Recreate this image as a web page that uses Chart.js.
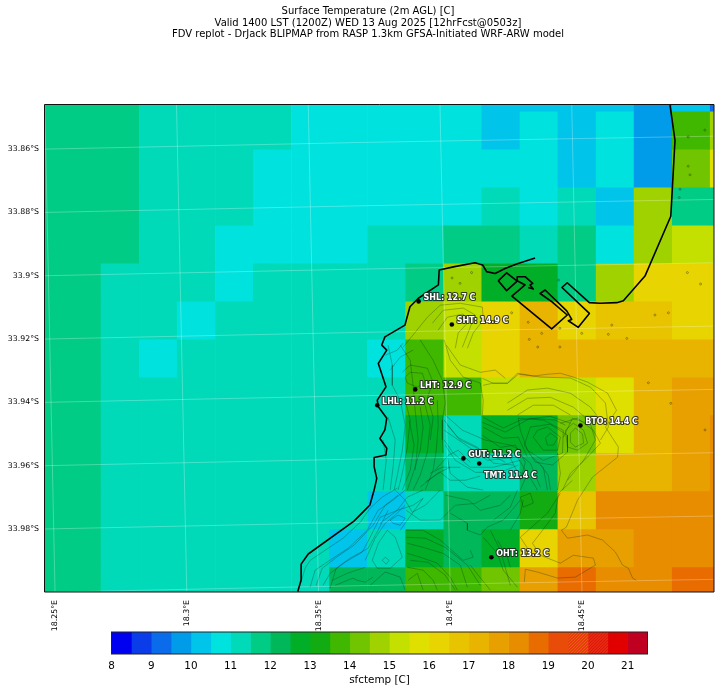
<!DOCTYPE html>
<html>
<head>
<meta charset="utf-8">
<title>Surface Temperature</title>
<script src="https://cdn.jsdelivr.net/npm/chart.js@4"></script>
<style>
  html, body { margin: 0; padding: 0; background: #fff; }
  #wrap { position: relative; width: 721px; height: 692px; overflow: hidden; }
  #mapChart { position: absolute; left: 0; top: 0; }
  #barChart { position: absolute; left: 0; top: 620px; }
</style>
</head>
<body>
<div id="wrap">
  <canvas id="mapChart" width="721" height="692"></canvas>
  <canvas id="barChart" width="721" height="72"></canvas>
</div>
<script>
var titleLines = [
  "Surface Temperature (2m AGL) [C]",
  "Valid 1400 LST (1200Z) WED 13 Aug 2025 [12hrFcst@0503z]",
  "FDV replot - DrJack BLIPMAP from RASP 1.3km GFSA-Initiated WRF-ARW model"
];

// axis ticks
var lonTicks = [18.25, 18.3, 18.35, 18.4, 18.45];
var lonLabels = ["18.25°E", "18.3°E", "18.35°E", "18.4°E", "18.45°E"];
var latTicks = [33.86, 33.88, 33.9, 33.92, 33.94, 33.96, 33.98];
var latLabels = ["33.86°S", "33.88°S", "33.9°S", "33.92°S", "33.94°S", "33.96°S", "33.98°S"];
var latGridLines = [33.86, 33.88, 33.9, 33.92, 33.94, 33.96, 33.98, 34.0];

// model grid
var lonCentres = [18.2458, 18.2603, 18.2747, 18.2892, 18.3036, 18.3181, 18.3325, 18.3470, 18.3614, 18.3759,
  18.3903, 18.4048, 18.4192, 18.4337, 18.4481, 18.4626, 18.4770, 18.4915, 18.5059];
var latEdges = [33.84, 33.848, 33.86, 33.872, 33.884, 33.896, 33.908, 33.92, 33.932, 33.944, 33.956, 33.968, 33.98, 33.992, 34.004];

// temperatures, one row per latitude band, north to south
var tempRows = [
  [11.75,11.75,11.75,11.25,11.25,11.25,11.25,10.75,10.75,10.75,10.75,10.75,10.25,10.25,10.25,10.25,9.75,10.25,9.25],
  [11.75,11.75,11.75,11.25,11.25,11.25,11.25,10.75,10.75,10.75,10.75,10.75,10.25,10.75,10.25,10.75,9.75,13.75,14.75],
  [11.75,11.75,11.75,11.25,11.25,11.25,10.75,10.75,10.75,10.75,10.75,10.75,10.75,10.75,10.25,10.75,9.75,14.25,15.75],
  [11.75,11.75,11.75,11.25,11.25,11.25,10.75,10.75,10.75,10.75,10.75,10.75,11.25,10.75,11.25,10.25,14.75,11.75,11.75],
  [11.75,11.75,11.75,11.25,11.25,10.75,10.75,10.75,10.75,11.25,11.25,11.75,11.75,11.25,11.75,10.75,14.75,15.25,15.25],
  [11.75,11.75,11.25,11.25,11.25,10.75,11.25,11.25,11.25,11.25,11.75,14.75,12.75,12.75,11.75,14.75,16.25,16.25,16.25],
  [11.75,11.75,11.25,11.25,10.75,11.25,11.25,11.25,11.25,11.25,14.75,15.25,16.25,17.25,16.25,16.75,16.75,16.25,16.25],
  [11.75,11.75,11.25,10.75,11.25,11.25,11.25,11.25,11.25,10.75,13.75,15.25,16.25,17.25,17.25,17.25,17.25,17.25,17.25],
  [11.75,11.75,11.25,11.25,11.25,11.25,11.25,11.25,11.25,11.25,13.75,13.75,15.25,15.25,15.25,15.75,17.25,17.75,17.75],
  [11.75,11.75,11.25,11.25,11.25,11.25,11.25,11.25,11.25,11.25,12.75,11.25,12.75,12.75,14.25,15.75,17.25,17.75,18.25],
  [11.75,11.75,11.25,11.25,11.25,11.25,11.25,11.25,11.25,11.25,12.25,11.25,11.25,12.25,14.75,17.25,17.25,17.75,18.25],
  [11.75,11.75,11.25,11.25,11.25,11.25,11.25,11.25,11.25,10.25,11.25,12.25,12.25,13.25,16.75,18.25,18.25,18.25,18.25],
  [11.75,11.75,11.25,11.25,11.25,11.25,11.25,11.25,10.25,11.25,12.75,12.25,12.75,16.25,17.75,17.75,18.25,18.25,18.25],
  [11.75,11.75,11.25,11.25,11.25,11.25,11.25,11.25,12.25,12.25,13.75,13.75,14.25,17.75,18.75,18.25,18.25,18.75,18.75]
];

// colour bands, 8 to 21.5 in half degrees
var bandLows = [8,8.5,9,9.5,10,10.5,11,11.5,12,12.5,13,13.5,14,14.5,15,15.5,16,16.5,17,17.5,18,18.5,19,19.5,20,20.5,21];
var bandColors = ["#0000f0","#0a3cea","#0a6cea","#009cea","#00c4ea","#00e2de","#00dab8","#00cc85","#00b85a","#00ae28",
  "#12ac12","#40b800","#70c400","#a0d200","#c4e000","#e0e000","#e8d400","#e8c400","#e8b400","#e8a000",
  "#e88c00","#e86c00","#e84c08","#e83c10","#e82810","#e00000","#c00020"];
var cbTicks = [8,8.5,9,9.5,10,10.5,11,11.5,12,12.5,13,13.5,14,14.5,15,15.5,16,16.5,17,17.5,18,18.5,19,19.5,20,20.5,21,21.5];

// stations
var stationNames = ["SHL", "SHT", "LHT", "LHL", "GUT", "TMT", "BTO", "OHT"];
var stationTemps = ["12.7", "14.9", "12.9", "11.2", "11.2", "11.4", "14.4", "13.2"];
var stationLon = [18.3880, 18.4006, 18.3867, 18.3723, 18.4050, 18.4110, 18.4494, 18.4156];
var stationLat = [33.9081, 33.9154, 33.9359, 33.9409, 33.9577, 33.9593, 33.9473, 33.9889];

// coastline
var westCoast = [[18.3421,33.9998],[18.3434,33.9961],[18.3434,33.9911],[18.3461,33.9879],[18.3632,33.9777],[18.3657,33.9756],
  [18.3695,33.9724],[18.3711,33.9677],[18.3721,33.9640],[18.3711,33.9603],[18.3711,33.9574],[18.3756,33.9566],[18.3759,33.9545],
  [18.3733,33.9514],[18.3752,33.9487],[18.3759,33.9450],[18.3727,33.9414],[18.3723,33.9393],[18.3756,33.9351],[18.3727,33.9277],
  [18.3759,33.9235],[18.3740,33.9219],[18.3752,33.9193],[18.3828,33.9156],[18.3847,33.9098],[18.3879,33.9071],[18.3955,33.9029],
  [18.3958,33.8982],[18.4012,33.8972],[18.4094,33.8959],[18.4123,33.8966],[18.4138,33.8987],[18.4170,33.8993],[18.4208,33.8977],
  [18.4252,33.8963],[18.4322,33.8944]];
var harbourBasin = [[18.4182,33.9016],[18.4214,33.8991],[18.4254,33.9017],[18.4214,33.9047],[18.4182,33.9016]];
var eastCoast = [[18.4834,33.8461],[18.4853,33.8572],[18.4837,33.8812],[18.4739,33.9001],[18.4657,33.9079],[18.4632,33.9085],
  [18.4568,33.9087],[18.4528,33.9085],[18.4444,33.9022],[18.4424,33.9037],[18.4528,33.9119],[18.4486,33.9163],[18.4448,33.9142],
  [18.4461,33.9138],[18.4442,33.9111],[18.4360,33.9045],[18.4341,33.9056],[18.4385,33.9082],[18.4444,33.9124],[18.4385,33.9168],
  [18.4234,33.9064],[18.4284,33.9029],[18.4254,33.9016],[18.4254,33.9003],[18.4284,33.9003],[18.4313,33.9024],[18.4303,33.9029],
  [18.4315,33.9042],[18.4296,33.9037]];
var coastLines = [westCoast, harbourBasin, eastCoast];

// small dams and ponds
var pondPoints = [[18.4007,33.9007],[18.4037,33.9024],[18.4081,33.8990],[18.4411,33.9014],[18.4903,33.8561],[18.4966,33.8540],
  [18.4903,33.8654],[18.4910,33.8681],[18.4872,33.8727],[18.4869,33.8753],[18.4900,33.8990],[18.4950,33.9026],[18.4777,33.9124],
  [18.4828,33.9117],[18.4613,33.9156],[18.4600,33.9185],[18.4670,33.9198],[18.4499,33.9182],[18.4416,33.9166],[18.4347,33.9182],
  [18.4296,33.9147],[18.4233,33.9117],[18.4300,33.9201],[18.4332,33.9225],[18.4416,33.9225],[18.4752,33.9338],[18.4837,33.9403],[18.4967,33.9487]];

// terrain contours
var contours = [
  [[18.4122,33.9324],[18.4164,33.9340],[18.4217,33.9340],[18.4259,33.9311],[18.4316,33.9317],[18.4369,33.9311],[18.4418,33.9308],[18.4467,33.9320],[18.4521,33.9336],[18.4597,33.9371],[18.4631,33.9425],[18.4589,33.9478],[18.4638,33.9541],[18.4635,33.9573],[18.4540,33.9636],[18.4483,33.9709],[18.4441,33.9794],[18.4422,33.9804],[18.4445,33.9829],[18.4521,33.9819],[18.4578,33.9835],[18.4627,33.9873],[18.4654,33.9914],[18.4676,33.9924],[18.4692,33.9955],[18.4707,33.9962]],
  [[18.3821,33.9226],[18.3913,33.9131],[18.3962,33.9093],[18.4038,33.9087],[18.4122,33.9099],[18.4125,33.9140],[18.4087,33.9181],[18.4065,33.9229]],
  [[18.3932,33.9150],[18.3973,33.9109],[18.4049,33.9102],[18.4095,33.9124],[18.4076,33.9162],[18.4046,33.9226]],
  [[18.3954,33.9172],[18.3989,33.9131],[18.4049,33.9121],[18.4068,33.9147],[18.4030,33.9181],[18.4019,33.9229]],
  [[18.3829,33.9320],[18.3848,33.9305],[18.3894,33.9308],[18.3905,33.9336],[18.3875,33.9352],[18.3837,33.9339],[18.3829,33.9320]],
  [[18.3818,33.9305],[18.3848,33.9282],[18.3913,33.9292],[18.3935,33.9336],[18.3913,33.9384],[18.3935,33.9447],[18.3924,33.9519]],
  [[18.3886,33.9203],[18.3935,33.9267],[18.3970,33.9330],[18.3981,33.9402],[18.3970,33.9456],[18.3970,33.9519],[18.3973,33.9560]],
  [[18.3977,33.9203],[18.4000,33.9267],[18.4049,33.9320],[18.4114,33.9339],[18.4125,33.9393],[18.4122,33.9440]],
  [[18.3753,33.9251],[18.3799,33.9235],[18.3821,33.9213]],
  [[18.3772,33.9298],[18.3810,33.9257],[18.3859,33.9235]],
  [[18.3791,33.9384],[18.3829,33.9393],[18.3848,33.9456],[18.3837,33.9542],[18.3818,33.9624],[18.3802,33.9677]],
  [[18.3764,33.9447],[18.3791,33.9519],[18.3783,33.9605],[18.3772,33.9677]],
  [[18.3886,33.9415],[18.3897,33.9478],[18.3886,33.9551],[18.3859,33.9624],[18.3837,33.9677]],
  [[18.3977,33.9456],[18.4027,33.9510],[18.4103,33.9542],[18.4164,33.9592],[18.4239,33.9598]],
  [[18.3977,33.9488],[18.4049,33.9529],[18.4141,33.9583],[18.4255,33.9573],[18.4293,33.9624],[18.4266,33.9677]],
  [[18.3977,33.9519],[18.4011,33.9560],[18.4076,33.9605],[18.4164,33.9605],[18.4266,33.9583]],
  [[18.3989,33.9573],[18.4000,33.9624],[18.4065,33.9668],[18.4125,33.9677]],
  [[18.3924,33.9624],[18.3970,33.9605],[18.4038,33.9605]],
  [[18.3886,33.9668],[18.3951,33.9624],[18.4000,33.9605]],
  [[18.4361,33.9513],[18.4380,33.9497],[18.4407,33.9513],[18.4392,33.9535],[18.4369,33.9535],[18.4361,33.9513]],
  [[18.4331,33.9488],[18.4369,33.9478],[18.4418,33.9510],[18.4407,33.9551],[18.4353,33.9551],[18.4315,33.9510],[18.4331,33.9488]],
  [[18.4258,33.9450],[18.4353,33.9456],[18.4429,33.9488],[18.4426,33.9560],[18.4353,33.9583],[18.4293,33.9551],[18.4266,33.9488],[18.4258,33.9450]],
  [[18.4125,33.9447],[18.4201,33.9481],[18.4266,33.9456],[18.4380,33.9444],[18.4456,33.9466]],
  [[18.4125,33.9478],[18.4201,33.9513],[18.4258,33.9510],[18.4293,33.9573]],
  [[18.4266,33.9567],[18.4304,33.9592],[18.4342,33.9668]],
  [[18.4304,33.9567],[18.4353,33.9605],[18.4369,33.9677]],
  [[18.4407,33.9560],[18.4418,33.9624],[18.4407,33.9677]],
  [[18.4437,33.9488],[18.4467,33.9466],[18.4506,33.9488],[18.4521,33.9529],[18.4483,33.9551],[18.4445,33.9541],[18.4437,33.9488]],
  [[18.4418,33.9466],[18.4483,33.9450],[18.4543,33.9488],[18.4570,33.9529],[18.4521,33.9573],[18.4456,33.9624],[18.4426,33.9677]],
  [[18.4125,33.9346],[18.4164,33.9339],[18.4217,33.9339],[18.4255,33.9308],[18.4342,33.9320],[18.4456,33.9323],[18.4532,33.9352],[18.4589,33.9402],[18.4600,33.9478],[18.4570,33.9519]],
  [[18.4217,33.9402],[18.4293,33.9361],[18.4369,33.9355],[18.4456,33.9371],[18.4532,33.9415],[18.4570,33.9456]],
  [[18.4217,33.9425],[18.4293,33.9387],[18.4380,33.9384],[18.4467,33.9415],[18.4524,33.9456]],
  [[18.4255,33.9440],[18.4315,33.9409],[18.4392,33.9409],[18.4456,33.9440]],
  [[18.3430,33.9978],[18.3449,33.9924],[18.3468,33.9899],[18.3536,33.9861],[18.3593,33.9829],[18.3658,33.9779],[18.3696,33.9734],[18.3742,33.9699],[18.3799,33.9671]],
  [[18.3468,33.9984],[18.3487,33.9930],[18.3555,33.9892],[18.3612,33.9861],[18.3685,33.9804],[18.3726,33.9741],[18.3783,33.9709],[18.3829,33.9677]],
  [[18.3517,33.9978],[18.3544,33.9940],[18.3601,33.9905],[18.3666,33.9873],[18.3696,33.9826],[18.3734,33.9763],[18.3799,33.9741],[18.3837,33.9699],[18.3897,33.9677]],
  [[18.3772,33.9772],[18.3802,33.9756],[18.3829,33.9766],[18.3810,33.9788],[18.3783,33.9782],[18.3772,33.9772]],
  [[18.3734,33.9782],[18.3799,33.9741],[18.3859,33.9725],[18.3897,33.9703],[18.3837,33.9772],[18.3810,33.9804]],
  [[18.3742,33.9899],[18.3753,33.9889],[18.3768,33.9899],[18.3757,33.9911],[18.3742,33.9899]],
  [[18.3704,33.9899],[18.3727,33.9845],[18.3761,33.9804],[18.3791,33.9826],[18.3818,33.9889],[18.3772,33.9924],[18.3723,33.9924],[18.3704,33.9899]],
  [[18.3552,33.9962],[18.3609,33.9940],[18.3677,33.9921]],
  [[18.3563,33.9978],[18.3631,33.9955],[18.3647,33.9962],[18.3677,33.9968],[18.3707,33.9952]],
  [[18.3833,33.9804],[18.3897,33.9804],[18.3962,33.9835],[18.4049,33.9899],[18.4087,33.9889],[18.4076,33.9867]],
  [[18.3837,33.9845],[18.3897,33.9858],[18.3973,33.9877],[18.4038,33.9914],[18.4065,33.9984]],
  [[18.3837,33.9877],[18.3886,33.9889],[18.3951,33.9908],[18.4000,33.9952],[18.4027,33.9993]],
  [[18.3837,33.9921],[18.3897,33.9930],[18.3935,33.9962],[18.3951,33.9993]],
  [[18.3840,33.9962],[18.3875,33.9940],[18.3897,33.9993]],
  [[18.4000,33.9750],[18.4065,33.9782],[18.4065,33.9804],[18.4114,33.9819],[18.4141,33.9794],[18.4201,33.9772],[18.4266,33.9709]],
  [[18.4125,33.9826],[18.4179,33.9877],[18.4201,33.9930],[18.4255,33.9984]],
  [[18.4179,33.9835],[18.4217,33.9889],[18.4228,33.9921]],
  [[18.4228,33.9804],[18.4266,33.9750],[18.4277,33.9709]],
  [[18.4266,33.9699],[18.4304,33.9687],[18.4315,33.9718],[18.4277,33.9731],[18.4266,33.9699]],
  [[18.4255,33.9677],[18.4228,33.9731],[18.4164,33.9772]],
  [[18.4418,33.9687],[18.4369,33.9750],[18.4266,33.9826],[18.4315,33.9889]],
  [[18.4464,33.9646],[18.4411,33.9687],[18.4399,33.9750],[18.4342,33.9813],[18.4312,33.9845],[18.4342,33.9883],[18.4418,33.9908],[18.4467,33.9883],[18.4543,33.9892],[18.4551,33.9914],[18.4475,33.9952],[18.4407,33.9955],[18.4331,33.9936],[18.4285,33.9927],[18.4281,33.9968]],
  [[18.3764,33.9219],[18.3780,33.9282],[18.3780,33.9346],[18.3810,33.9393],[18.3829,33.9472],[18.3818,33.9551],[18.3799,33.9630],[18.3787,33.9677]],
  [[18.3745,33.9519],[18.3757,33.9583],[18.3745,33.9677]],
  [[18.3810,33.9219],[18.3848,33.9267],[18.3859,33.9346],[18.3867,33.9425],[18.3878,33.9519],[18.3867,33.9614]],
  [[18.3905,33.9409],[18.3924,33.9472],[18.3913,33.9557],[18.3886,33.9630],[18.3859,33.9677]],
  [[18.3951,33.9393],[18.3954,33.9472],[18.3947,33.9551],[18.3935,33.9614],[18.3905,33.9677]],
  [[18.3844,33.9456],[18.3863,33.9535],[18.3848,33.9614],[18.3818,33.9677]],
  [[18.3985,33.9219],[18.4038,33.9282],[18.4114,33.9305],[18.4171,33.9298],[18.4209,33.9324]],
  [[18.3981,33.9440],[18.4046,33.9488],[18.4133,33.9519],[18.4228,33.9535],[18.4266,33.9551]],
  [[18.3989,33.9472],[18.4038,33.9519],[18.4133,33.9557],[18.4209,33.9589]],
  [[18.3981,33.9535],[18.4019,33.9583],[18.4095,33.9621],[18.4190,33.9621],[18.4258,33.9598]],
  [[18.3943,33.9614],[18.3993,33.9567],[18.4030,33.9551],[18.4076,33.9589]],
  [[18.3905,33.9652],[18.3962,33.9621],[18.4000,33.9646],[18.4057,33.9646],[18.4114,33.9633]],
  [[18.4122,33.9504],[18.4190,33.9542],[18.4247,33.9535],[18.4285,33.9589],[18.4266,33.9646]],
  [[18.4122,33.9463],[18.4209,33.9494],[18.4304,33.9450],[18.4399,33.9456],[18.4437,33.9472]],
  [[18.4304,33.9478],[18.4380,33.9469],[18.4445,33.9504],[18.4445,33.9557],[18.4388,33.9598],[18.4323,33.9589],[18.4281,33.9535],[18.4304,33.9478]],
  [[18.4342,33.9598],[18.4372,33.9630],[18.4380,33.9677]],
  [[18.4213,33.9551],[18.4251,33.9614],[18.4304,33.9639],[18.4331,33.9677]],
  [[18.4456,33.9497],[18.4475,33.9481],[18.4502,33.9500],[18.4506,33.9529],[18.4475,33.9541],[18.4456,33.9526],[18.4456,33.9497]],
  [[18.4429,33.9510],[18.4464,33.9450],[18.4532,33.9469],[18.4551,33.9519],[18.4506,33.9583],[18.4445,33.9646]],
  [[18.3833,33.9826],[18.3905,33.9829],[18.3981,33.9858],[18.4065,33.9914],[18.4114,33.9978]],
  [[18.3848,33.9899],[18.3916,33.9905],[18.3981,33.9946],[18.4019,33.9993]],
  [[18.4076,33.9914],[18.4106,33.9946],[18.4152,33.9993]],
  [[18.4152,33.9804],[18.4190,33.9867],[18.4228,33.9978]],
  [[18.3491,33.9978],[18.3514,33.9924],[18.3574,33.9886],[18.3635,33.9851],[18.3707,33.9788],[18.3753,33.9725],[18.3802,33.9693]],
  [[18.3544,33.9987],[18.3567,33.9924],[18.3620,33.9892],[18.3688,33.9861],[18.3726,33.9804],[18.3764,33.9741]],
  [[18.3677,33.9899],[18.3715,33.9829],[18.3753,33.9782],[18.3791,33.9756],[18.3829,33.9725]],
  [[18.3791,33.9677],[18.3829,33.9709],[18.3856,33.9747],[18.3905,33.9725],[18.3962,33.9677]],
  [[18.3833,33.9741],[18.3886,33.9772],[18.3962,33.9772],[18.4019,33.9725],[18.4095,33.9719],[18.4152,33.9693]],
  [[18.3981,33.9693],[18.4069,33.9709],[18.4114,33.9741],[18.4190,33.9725],[18.4228,33.9693]],
  [[18.3696,33.9978],[18.3753,33.9936],[18.3810,33.9952],[18.3829,33.9993]]
];

var FONT = "'DejaVu Sans', sans-serif";

function colorFor(v) {
  return bandColors[Math.floor((v - 8) * 2)];
}
function toXY(pairs) {
  return pairs.map(function (p) { return { x: p[0], y: p[1] }; });
}
function lineSet(pairs, color, width, order) {
  return { type: 'line', data: toXY(pairs), borderColor: color, borderWidth: width, pointRadius: 0,
    tension: 0, fill: false, order: order, borderJoinStyle: 'round' };
}

var mapDatasets = [];

// cells, one floating bar dataset per row
tempRows.forEach(function (row, r) {
  mapDatasets.push({
    type: 'bar',
    data: row.map(function (v, c) { return { x: lonCentres[c], y: [latEdges[r], latEdges[r + 1]] }; }),
    backgroundColor: row.map(colorFor),
    barThickness: 38.08,
    grouped: false,
    order: 10
  });
});

contours.forEach(function (c) {
  mapDatasets.push(lineSet(c, 'rgba(0,45,25,0.5)', 0.6, 4));
});

// the map projection tilts the lat/lon lines a little
latGridLines.forEach(function (t) {
  mapDatasets.push(lineSet([[18.246, t], [18.3657, t - 0.0021], [18.5, t - 0.0041]], 'rgba(255,255,255,0.3)', 0.9, 3));
});
lonTicks.forEach(function (t) {
  mapDatasets.push(lineSet([[t - 0.0039, 33.8459], [t, 34.0]], 'rgba(255,255,255,0.3)', 0.9, 3));
});

coastLines.forEach(function (c) {
  mapDatasets.push(lineSet(c, '#000', 1.6, 2));
});

mapDatasets.push({
  type: 'line', data: toXY(pondPoints), showLine: false, pointRadius: 1, pointBackgroundColor: 'rgba(0,0,0,0)',
  pointBorderColor: 'rgba(40,40,20,0.65)', pointBorderWidth: 0.6, order: 2
});

mapDatasets.push({
  type: 'line',
  data: stationLon.map(function (lon, i) { return { x: lon, y: stationLat[i] }; }),
  showLine: false, pointRadius: 2.3, pointBackgroundColor: '#000', pointBorderColor: '#000', pointBorderWidth: 0, order: 1
});

var mapOverlay = {
  id: 'mapOverlay',
  afterDatasetsDraw: function (chart) {
    var ctx = chart.ctx, a = chart.chartArea, xs = chart.scales.x, ys = chart.scales.y;
    ctx.save();
    ctx.font = "bold 8px " + FONT;
    ctx.textBaseline = 'middle';
    ctx.lineJoin = 'round';
    stationNames.forEach(function (name, i) {
      var txt = name + ": " + stationTemps[i] + " C";
      var px = xs.getPixelForValue(stationLon[i]) + 4.8;
      var py = ys.getPixelForValue(stationLat[i]) - 3.5;
      if (name === 'TMT') { py = ys.getPixelForValue(stationLat[i]) + 12.2; }
      ctx.lineWidth = 2.2;
      ctx.strokeStyle = 'rgba(30,30,30,0.85)';
      ctx.strokeText(txt, px, py);
      ctx.fillStyle = '#fff';
      ctx.fillText(txt, px, py);
    });
    ctx.strokeStyle = '#111';
    ctx.lineWidth = 1;
    ctx.strokeRect(a.left, a.top, a.right - a.left, a.bottom - a.top);

    // suptitle sits left of the plot centre
    ctx.font = "10px " + FONT;
    ctx.fillStyle = '#000';
    ctx.textAlign = 'center';
    titleLines.forEach(function (t, i) {
      ctx.fillText(t, 368, 11.6 + i * 11.5);
    });
    ctx.restore();
  }
};

new Chart(document.getElementById("mapChart").getContext("2d"), {
  type: 'bar',
  data: { datasets: mapDatasets },
  options: {
    responsive: false,
    animation: false,
    devicePixelRatio: 1,
    events: [],
    layout: { padding: { left: 0, right: 7, top: 104.5, bottom: 0 } },
    plugins: {
      legend: { display: false },
      tooltip: { enabled: false }
    },
    scales: {
      x: {
        type: 'linear', min: 18.246, max: 18.5001, offset: false,
        grid: { display: false }, border: { display: false },
        afterBuildTicks: function (s) { s.ticks = lonTicks.map(function (v) { return { value: v }; }); },
        afterFit: function (s) { s.height = 100; },
        ticks: {
          autoSkip: false, minRotation: 90, maxRotation: 90, padding: 0, color: '#000',
          font: { family: FONT, size: 7.8 },
          callback: function (v, i) { return lonLabels[i]; }
        }
      },
      y: {
        type: 'linear', reverse: true, min: 33.8459, max: 33.9999,
        grid: { display: false, drawTicks: false }, border: { display: false },
        afterBuildTicks: function (s) { s.ticks = latTicks.map(function (v) { return { value: v }; }); },
        afterFit: function (s) { s.width = 44.5; },
        ticks: {
          autoSkip: false, padding: 5.5, color: '#000',
          font: { family: FONT, size: 7.8 },
          callback: function (v, i) { return latLabels[i]; }
        }
      }
    }
  },
  plugins: [mapOverlay]
});

// colour bar, the two dithered bands get a speckle pattern
function speckle(base, dot) {
  var c = document.createElement('canvas');
  c.width = 3; c.height = 3;
  var g = c.getContext('2d');
  g.fillStyle = base; g.fillRect(0, 0, 3, 3);
  g.fillStyle = dot; g.fillRect(0, 0, 1, 1); g.fillRect(2, 1, 1, 1); g.fillRect(1, 2, 1, 1);
  return g.createPattern(c, 'repeat');
}
var barCtx = document.getElementById("barChart").getContext("2d");
var barDatasets = bandLows.map(function (lo, i) {
  var col = bandColors[i];
  if (lo === 19.5) col = speckle('#e83c10', '#e8600c');
  if (lo === 20) col = speckle('#e82810', '#d81808');
  return { data: [[lo, lo + 0.5]], backgroundColor: col, grouped: false, barPercentage: 1, categoryPercentage: 1 };
});

var barFrame = {
  id: 'barFrame',
  afterDatasetsDraw: function (chart) {
    var a = chart.chartArea, ctx = chart.ctx;
    ctx.save();
    ctx.strokeStyle = '#222';
    ctx.lineWidth = 1;
    ctx.strokeRect(a.left, a.top, a.right - a.left, a.bottom - a.top);
    ctx.restore();
  }
};

new Chart(barCtx, {
  type: 'bar',
  data: { labels: ['sfctemp'], datasets: barDatasets },
  options: {
    indexAxis: 'y',
    responsive: false,
    animation: false,
    devicePixelRatio: 1,
    events: [],
    layout: { padding: { left: 111.5, right: 73.5, top: 12, bottom: 5 } },
    plugins: { legend: { display: false }, tooltip: { enabled: false } },
    scales: {
      y: { display: false },
      x: {
        type: 'linear', min: 8, max: 21.5,
        grid: { display: false, drawTicks: true, tickLength: 3, tickColor: '#333' },
        border: { display: false },
        afterBuildTicks: function (s) { s.ticks = cbTicks.map(function (v) { return { value: v }; }); },
        afterFit: function (s) { s.height = 33; },
        ticks: {
          autoSkip: false, maxRotation: 0, padding: 3, color: '#000',
          font: { family: FONT, size: 10.4 },
          callback: function (v) { return Number.isInteger(v) ? String(v) : ''; }
        },
        title: { display: true, text: 'sfctemp [C]', color: '#000', font: { family: FONT, size: 10.4 }, padding: { top: 1, bottom: 0 } }
      }
    }
  },
  plugins: [barFrame]
});
</script>
</body>
</html>
